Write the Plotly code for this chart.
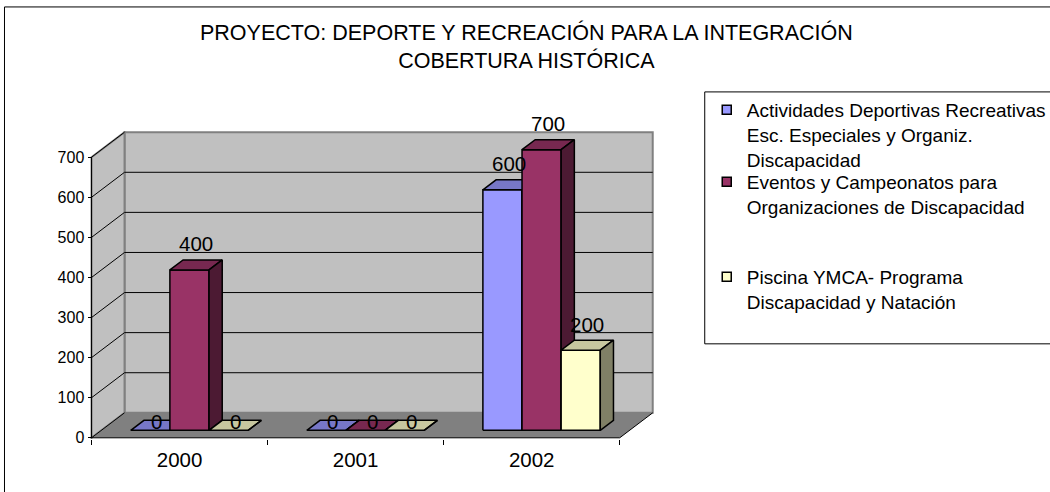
import plotly.graph_objects as go

# ---------------- data ----------------
categories = ["2000", "2001", "2002"]
series_names = [
    "Actividades Deportivas Recreativas<br>Esc. Especiales y Organiz.<br>Discapacidad",
    "Eventos y Campeonatos para<br>Organizaciones de Discapacidad",
    "Piscina YMCA- Programa<br>Discapacidad y Natación",
]
actividades = [0, 0, 600]
eventos = [400, 0, 700]
piscina = [0, 0, 200]
y_ticks = [0, 100, 200, 300, 400, 500, 600, 700]
title_text = "PROYECTO: DEPORTE Y RECREACIÓN PARA LA INTEGRACIÓN<br>COBERTURA HISTÓRICA"

series_values = [actividades, eventos, piscina]
front_colors = ["#9999FF", "#993366", "#FFFFCC"]

FONT = "Liberation Sans, Arial, sans-serif"


def shade(hex_color, f):
    h = hex_color.lstrip("#")
    r, g, b = (int(h[i:i + 2], 16) for i in (0, 2, 4))
    return "rgb(%d,%d,%d)" % (round(r * f), round(g * f), round(b * f))


# ---------------- geometry (oblique 3D projection) ----------------
FIG_W, FIG_H = 1050, 492
PX_X = 176.0          # pixels per category
PX_Y = 0.401          # pixels per value unit
X0_PX, Y0_PX = 92.0, 438.0   # pixel of front origin
DX = 33.0 / PX_X      # full depth, x offset in category units
DY = 25.0 / PX_Y      # full depth, y offset in value units
n_cat = len(categories)
n_ser = len(series_values)
w = 1.0 / 4.5         # bar width (gap width 150%)
d0 = 0.30             # depth of bar front face (fraction)
bd = 0.40             # bar depth (fraction)
ymax = y_ticks[-1]

x_range = [-0.52, (n_cat - 0.5) + DX + 0.03]
y_range = [-3.0, ymax + DY + 3.0]
l = X0_PX + (x_range[0] + 0.5) * PX_X
W = (x_range[1] - x_range[0]) * PX_X
r = FIG_W - l - W
plot_bottom = Y0_PX - y_range[0] * PX_Y
H = (y_range[1] - y_range[0]) * PX_Y
t = plot_bottom - H
b = FIG_H - plot_bottom


def pxx(px):
    return (px - l) / W


def pxy(py):
    return (plot_bottom - py) / H


def path(pts):
    return "M " + " L ".join("%f,%f" % p for p in pts) + " Z"


xa, xb = -0.5, n_cat - 0.5
shapes = []
# back wall
shapes.append(dict(type="rect", xref="x", yref="y", x0=xa + DX, x1=xb + DX, y0=DY, y1=ymax + DY,
                   fillcolor="#C0C0C0", line=dict(color="#808080", width=2), layer="below"))
# left wall
shapes.append(dict(type="path", xref="x", yref="y",
                   path=path([(xa, 0), (xa, ymax), (xa + DX, ymax + DY), (xa + DX, DY)]),
                   fillcolor="#C0C0C0", line=dict(color="#808080", width=2), layer="below"))
# floor
shapes.append(dict(type="path", xref="x", yref="y",
                   path=path([(xa, 0), (xb, 0), (xb + DX, DY), (xa + DX, DY)]),
                   fillcolor="#808080", line=dict(width=0), layer="below"))
# gridlines on back wall and side wall
for v in y_ticks:
    if 0 < v < ymax:
        shapes.append(dict(type="line", xref="x", yref="y", x0=xa + DX, x1=xb + DX, y0=v + DY, y1=v + DY,
                           line=dict(color="black", width=1), layer="below"))
    shapes.append(dict(type="line", xref="x", yref="y", x0=xa, x1=xa + DX, y0=v, y1=v + DY,
                       line=dict(color="black", width=1), layer="below"))
# front axes
shapes.append(dict(type="line", xref="x", yref="y", x0=xa, x1=xa, y0=0, y1=ymax,
                   line=dict(color="black", width=1), layer="below"))
shapes.append(dict(type="line", xref="x", yref="y", x0=xa, x1=xb, y0=0, y1=0,
                   line=dict(color="black", width=1), layer="below"))
shapes.append(dict(type="line", xref="x", yref="y", x0=xb, x1=xb + DX, y0=0, y1=DY,
                   line=dict(color="black", width=1), layer="below"))
# outer chart border
shapes.append(dict(type="rect", xref="paper", yref="paper", x0=pxx(5), x1=pxx(1060),
                   y0=pxy(500), y1=pxy(7), line=dict(color="black", width=1), fillcolor="rgba(0,0,0,0)"))
# legend box
shapes.append(dict(type="rect", xref="paper", yref="paper", x0=pxx(705), x1=pxx(1070),
                   y0=pxy(344), y1=pxy(92), line=dict(color="black", width=1), fillcolor="white",
                   layer="below"))

fig = go.Figure()
annotations = []
for s, vals in enumerate(series_values):
    fx, fy, tx, ty, sx, sy = [], [], [], [], [], []
    for c, v in enumerate(vals):
        xl = c - 1.5 * w + s * w + d0 * DX
        xr = xl + w
        yb = d0 * DY
        yt = yb + v
        ddx, ddy = bd * DX, bd * DY
        fx += [xl, xr, xr, xl, xl, None]
        fy += [yb, yb, yt, yt, yb, None]
        tx += [xl, xr, xr + ddx, xl + ddx, xl, None]
        ty += [yt, yt, yt + ddy, yt + ddy, yt, None]
        sx += [xr, xr + ddx, xr + ddx, xr, xr, None]
        sy += [yb, yb + ddy, yt + ddy, yt, yb, None]
        annotations.append(dict(x=xl + w / 2 + ddx / 2, y=yt + ddy / 2, xref="x", yref="y",
                                text=str(v), showarrow=False, yshift=21 if v > 0 else 4,
                                font=dict(family=FONT, size=20.5, color="black")))
    for xs, ys, col in ((fx, fy, front_colors[s]), (tx, ty, shade(front_colors[s], 0.78)),
                        (sx, sy, shade(front_colors[s], 0.5))):
        fig.add_trace(go.Scatter(x=xs, y=ys, mode="lines", fill="toself", fillcolor=col,
                                 line=dict(color="black", width=1.5), hoverinfo="skip",
                                 showlegend=False))

# title
annotations.append(dict(text=title_text, xref="paper", yref="paper", x=pxx(527), y=pxy(18),
                        xanchor="center", yanchor="top", showarrow=False,
                        font=dict(family=FONT, size=21.5, color="black")))

# legend entries (one legend per entry, positioned like the original)
legend_keys = ["legend", "legend2", "legend3"]
legend_tops = [91, 163, 258]
for s in range(n_ser):
    fig.add_trace(go.Scatter(x=[None], y=[None], mode="markers", name=series_names[s],
                             legend=legend_keys[s],
                             marker=dict(symbol="square", size=9, color=front_colors[s],
                                         line=dict(color="black", width=1.5))))

legend_layout = {}
for key, top in zip(legend_keys, legend_tops):
    legend_layout[key] = dict(x=pxx(707), y=pxy(top), xanchor="left", yanchor="top",
                              xref="paper", yref="paper", borderwidth=0,
                              bgcolor="rgba(0,0,0,0)", valign="top",
                              font=dict(family=FONT, size=19, color="black"), itemwidth=30)

fig.update_layout(
    width=FIG_W, height=FIG_H,
    margin=dict(l=l, r=r, t=t, b=b, pad=0, autoexpand=False),
    paper_bgcolor="white", plot_bgcolor="white",
    font=dict(family=FONT, color="black"),
    xaxis=dict(range=x_range, showgrid=False, zeroline=False, showline=False,
               tickmode="array", tickvals=list(range(n_cat)), ticktext=categories, ticks="",
               ticklabelstandoff=6,
               tickfont=dict(family=FONT, size=20.5, color="black"),
               minor=dict(tickmode="array", tickvals=[i - 0.5 for i in range(n_cat + 1)],
                          ticks="outside", ticklen=5, tickcolor="black", tickwidth=1, showgrid=False)),
    yaxis=dict(range=y_range, showgrid=False, zeroline=False, showline=False,
               anchor="free", position=pxx(X0_PX),
               tickmode="array", tickvals=y_ticks, ticks="outside", ticklen=4,
               tickcolor="black", tickwidth=1,
               tickfont=dict(family=FONT, size=16, color="black")),
    shapes=shapes,
    annotations=annotations,
    showlegend=True,
    hovermode=False,
    **legend_layout,
)

fig.write_html("out.html", config={"displayModeBar": False},
               post_script="document.body.style.margin='0px';")
